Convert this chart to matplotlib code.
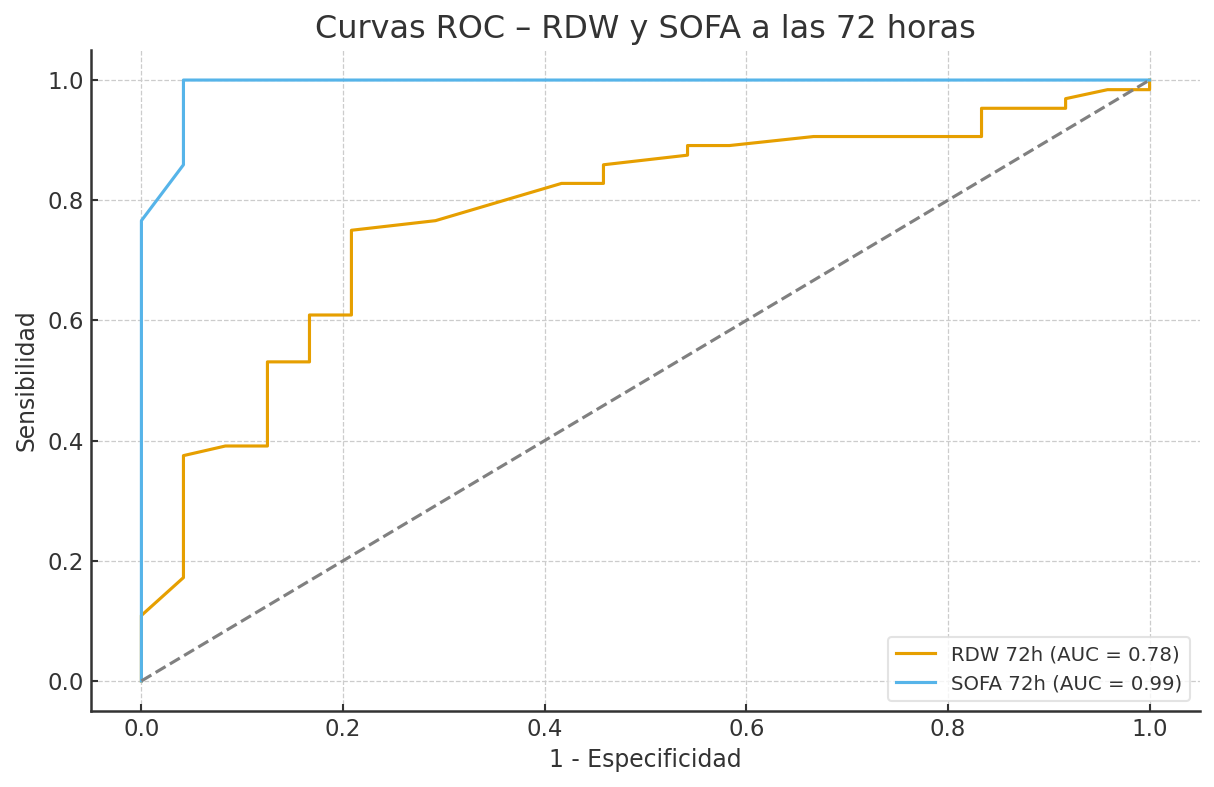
import matplotlib
matplotlib.use("Agg")
import matplotlib.pyplot as plt

# Data (FPR in 1/24 steps, TPR in 1/64 steps)
rdw_fpr = [0.0, 0.0, 0.0417, 0.0417, 0.0833, 0.125, 0.125, 0.1667, 0.1667, 0.2083, 0.2083,
           0.2917, 0.4167, 0.4583, 0.4583, 0.5417, 0.5417, 0.5833, 0.6667, 0.8333, 0.8333,
           0.9167, 0.9167, 0.9583, 1.0, 1.0]
rdw_tpr = [0.0, 0.109, 0.172, 0.375, 0.391, 0.391, 0.531, 0.531, 0.609, 0.609, 0.75,
           0.766, 0.828, 0.828, 0.859, 0.875, 0.891, 0.891, 0.906, 0.906, 0.953,
           0.953, 0.969, 0.984, 0.984, 1.0]
sofa_fpr = [0.0, 0.0, 0.0417, 0.0417, 1.0]
sofa_tpr = [0.0, 0.766, 0.859, 1.0, 1.0]
rdw_label = "RDW 72h (AUC = 0.78)"
sofa_label = "SOFA 72h (AUC = 0.99)"
diag = [0, 1]

text_color = "#333333"
plt.rcParams.update({
    "font.family": "DejaVu Sans",
    "text.color": text_color,
    "axes.labelcolor": text_color,
    "xtick.color": text_color,
    "ytick.color": text_color,
})

fig = plt.figure(figsize=(1214 / 150, 787 / 150), dpi=150)
ax = fig.add_axes([91 / 1214, 1 - 711 / 787, (1200 - 91) / 1214, (711 - 50) / 787])

ax.plot(rdw_fpr, rdw_tpr, color="#E69F00", lw=1.5, label=rdw_label)
ax.plot(sofa_fpr, sofa_tpr, color="#56B4E9", lw=1.5, label=sofa_label)
ax.plot(diag, diag, color="gray", lw=1.5, ls="--")

ax.set_xlim(-0.05, 1.05)
ax.set_ylim(-0.05, 1.05)
ax.set_xticks([0.0, 0.2, 0.4, 0.6, 0.8, 1.0])
ax.set_yticks([0.0, 0.2, 0.4, 0.6, 0.8, 1.0])
ax.tick_params(direction="in", labelsize=11, length=3.5, width=1.0, color=text_color)

ax.grid(True, ls="--", color="#cccccc", lw=0.6)
ax.set_axisbelow(True)
for s in ["top", "right"]:
    ax.spines[s].set_visible(False)
for s in ["left", "bottom"]:
    ax.spines[s].set_color(text_color)
    ax.spines[s].set_linewidth(1.2)

ax.set_xlabel("1 - Especificidad", fontsize=11.3, labelpad=3)
ax.set_ylabel("Sensibilidad", fontsize=11.3)
ax.set_title("Curvas ROC – RDW y SOFA a las 72 horas", fontsize=15.3, pad=5.6)

leg = ax.legend(loc="lower right", fontsize=9.5, frameon=True, fancybox=True)
leg.get_frame().set_edgecolor("#dddddd")
for t in leg.get_texts():
    t.set_color(text_color)

fig.savefig("out.png", dpi=150)
